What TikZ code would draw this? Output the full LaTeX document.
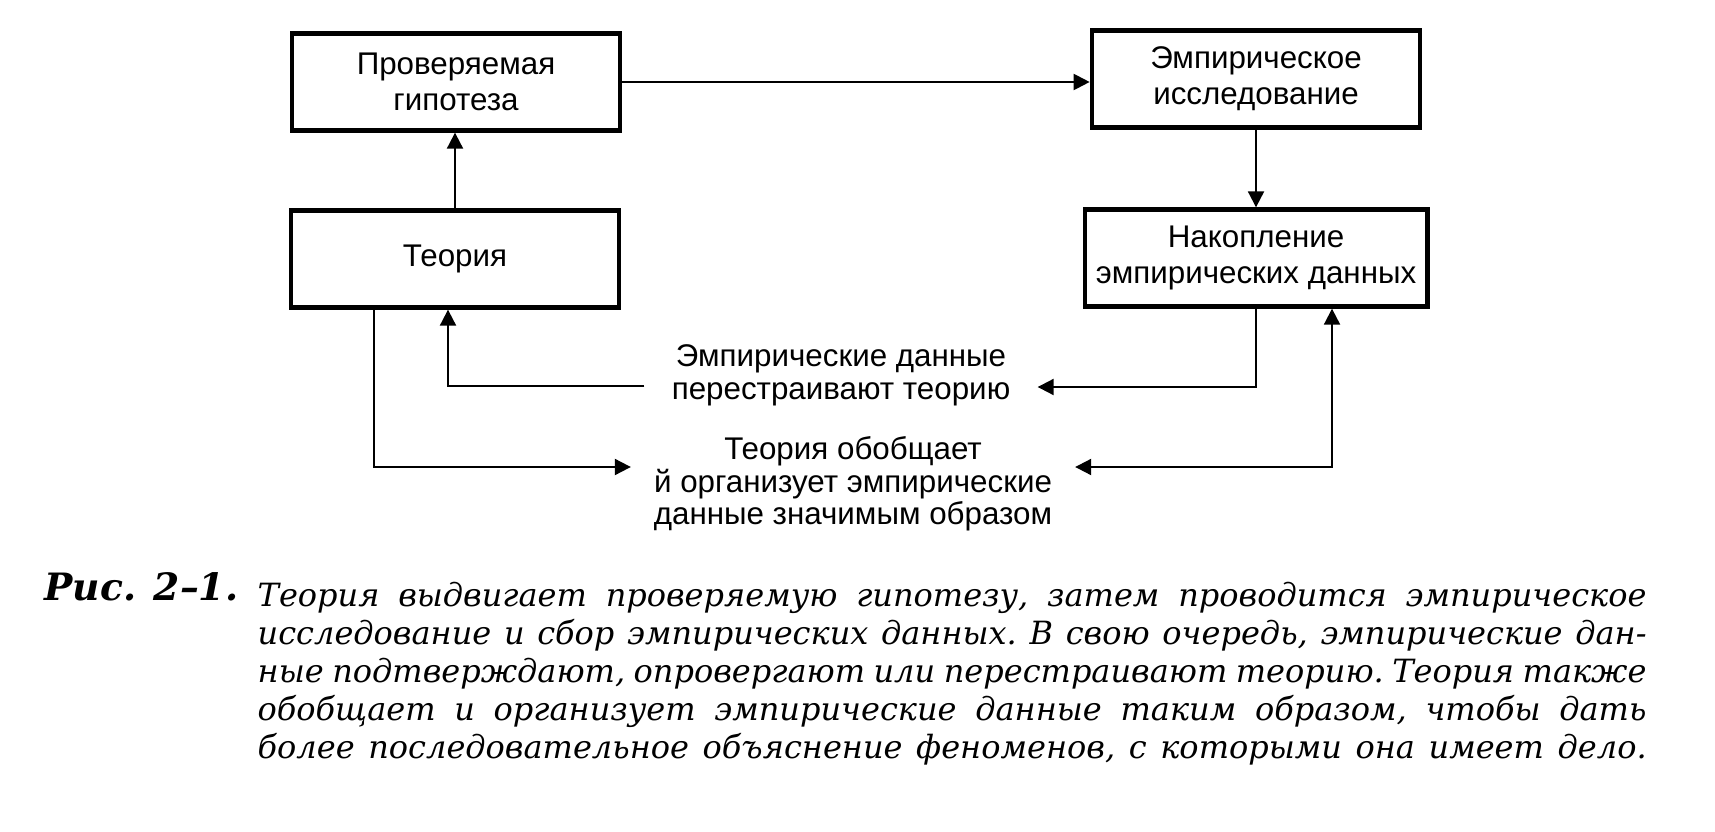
\documentclass[tikz,border=0pt]{standalone}
\usepackage{fontspec}
\setmainfont{Liberation Sans}
\newfontfamily\capfont{DejaVu Serif}
\usetikzlibrary{arrows.meta, positioning, calc}

\begin{document}
\begin{tikzpicture}[
  x=0.3pt, y=-0.3pt,
  box/.style={rectangle, draw, line width=1.3pt, minimum width=98.5pt, minimum height=29.1pt, align=center, font=\fontsize{9.4}{10.8}\selectfont},
  lbl/.style={inner sep=0pt, align=center, font=\fontsize{9.4}{9.8}\selectfont},
  arrow/.style={line width=0.6pt, -{Triangle[length=4.8pt, width=4.8pt]}},
  dblarrow/.style={line width=0.6pt, {Triangle[length=4.8pt, width=4.8pt]}-{Triangle[length=4.8pt, width=4.8pt]}}
]
  \useasboundingbox (0,0) rectangle (1715,831);
  \node[box] (hyp) at (456,82) {Проверяемая\\гипотеза};
  \node[box] (theory) at (455,259) {Теория};
  \node[box] (study) at (1256,79) {Эмпирическое\\исследование};
  \node[box] (accum) at (1256,258) {Накопление\\эмпирических данных};
  \node[lbl, minimum width=117.6pt] (rebuild) at (841,375) {Эмпирические данные\\перестраивают теорию};
  \node[lbl, minimum width=132.9pt] (organize) at (853,484) {Теория обобщает\\й организует эмпирические\\данные значимым образом};
  \draw[arrow] (theory.north) -- (theory.north |- hyp.south);
  \draw[arrow] (hyp.east) -- (hyp.east -| study.west);
  \draw[arrow] (study.south) -- (study.south |- accum.north);
  \draw[arrow] (accum.south) |- ($(rebuild.east)+(0,12)$);
  \draw[arrow] ($(rebuild.west)+(0,11)$) -| ($(theory.south)+(-7,0)$);
  \draw[arrow] ($(theory.south)+(-81,0)$) |- ($(organize.west)+(0,-17)$);
  \draw[dblarrow] ($(accum.south)+(76,0)$) |- ($(organize.east)+(0,-17)$);
  % caption
  \node[anchor=base west, inner sep=0pt, font=\capfont\bfseries\itshape\fontsize{11.3}{12}\selectfont] (fig) at (44,600) {Рис. 2–1.};
  \node[anchor=north west, inner sep=0pt, text width=416.7pt, align=justify, font=\capfont\itshape\fontsize{9.6}{11.4}\selectfont] (caption) at (257,582) {\frenchspacing\hyphenpenalty=10000
    Теория выдвигает проверяемую гипотезу, затем проводится эмпирическое\linebreak
    исследование и сбор эмпирических данных. В свою очередь, эмпирические дан-\linebreak
    ные подтверждают, опровергают или перестраивают теорию. Теория также\linebreak
    обобщает и организует эмпирические данные таким образом, чтобы дать\linebreak
    более последовательное объяснение феноменов, с которыми она имеет дело.\parfillskip=0pt\par};
\end{tikzpicture}
\end{document}
